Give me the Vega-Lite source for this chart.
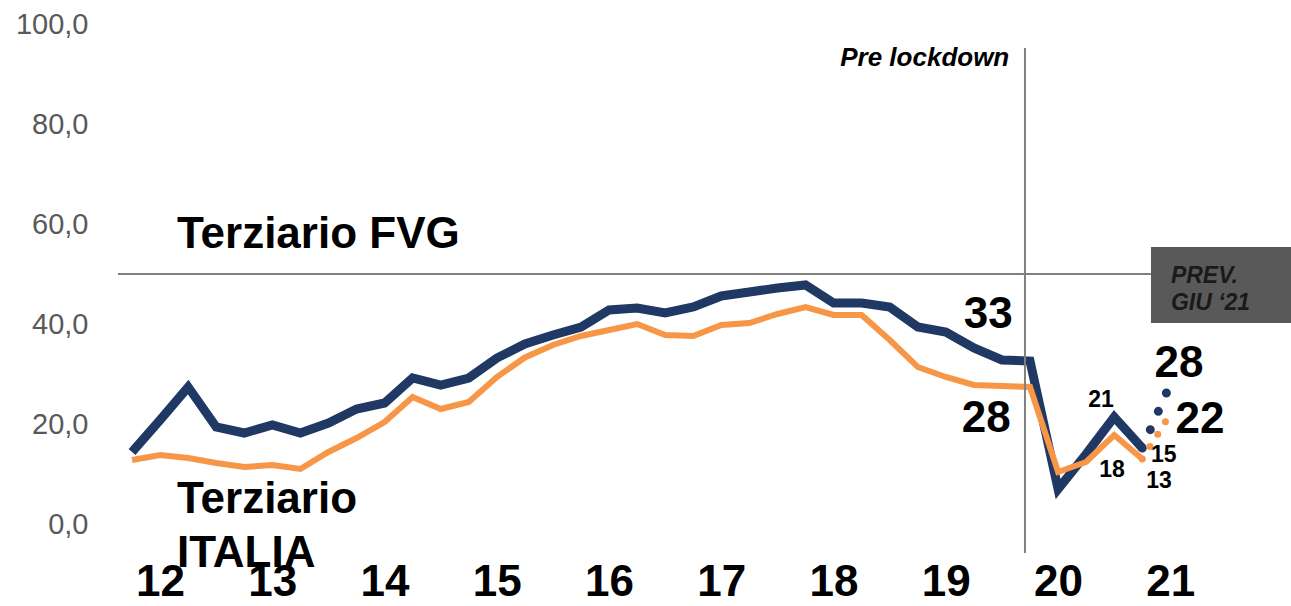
{
  "$schema": "https://vega.github.io/schema/vega-lite/v6.json",
  "width": 1173,
  "height": 530,
  "autosize": {"type": "none"},
  "padding": {"left": 118, "top": 24, "right": 0, "bottom": 52},
  "background": "white",
  "config": {"view": {"stroke": null}, "font": "Liberation Sans"},
  "datasets": {
    "fvg": [
      {"t": 0, "v": 14.4}, {"t": 1, "v": 20.8}, {"t": 2, "v": 27.4}, {"t": 3, "v": 19.4},
      {"t": 4, "v": 18.2}, {"t": 5, "v": 19.8}, {"t": 6, "v": 18.2}, {"t": 7, "v": 20.2},
      {"t": 8, "v": 23.0}, {"t": 9, "v": 24.2}, {"t": 10, "v": 29.2}, {"t": 11, "v": 27.8},
      {"t": 12, "v": 29.2}, {"t": 13, "v": 33.2}, {"t": 14, "v": 36.0}, {"t": 15, "v": 37.8},
      {"t": 16, "v": 39.4}, {"t": 17, "v": 42.8}, {"t": 18, "v": 43.2}, {"t": 19, "v": 42.2},
      {"t": 20, "v": 43.4}, {"t": 21, "v": 45.6}, {"t": 22, "v": 46.4}, {"t": 23, "v": 47.2},
      {"t": 24, "v": 47.8}, {"t": 25, "v": 44.2}, {"t": 26, "v": 44.2}, {"t": 27, "v": 43.4},
      {"t": 28, "v": 39.4}, {"t": 29, "v": 38.4}, {"t": 30, "v": 35.2}, {"t": 31, "v": 32.8},
      {"t": 32, "v": 32.6}, {"t": 33, "v": 7.0}, {"t": 34, "v": 14.0}, {"t": 35, "v": 21.4},
      {"t": 36, "v": 15.2}
    ],
    "ita": [
      {"t": 0, "v": 12.8}, {"t": 1, "v": 13.8}, {"t": 2, "v": 13.2}, {"t": 3, "v": 12.2},
      {"t": 4, "v": 11.4}, {"t": 5, "v": 11.8}, {"t": 6, "v": 11.0}, {"t": 7, "v": 14.4},
      {"t": 8, "v": 17.2}, {"t": 9, "v": 20.4}, {"t": 10, "v": 25.4}, {"t": 11, "v": 23.0},
      {"t": 12, "v": 24.4}, {"t": 13, "v": 29.4}, {"t": 14, "v": 33.3}, {"t": 15, "v": 35.8},
      {"t": 16, "v": 37.6}, {"t": 17, "v": 38.8}, {"t": 18, "v": 40.0}, {"t": 19, "v": 37.8},
      {"t": 20, "v": 37.6}, {"t": 21, "v": 39.8}, {"t": 22, "v": 40.2}, {"t": 23, "v": 42.0},
      {"t": 24, "v": 43.4}, {"t": 25, "v": 41.8}, {"t": 26, "v": 41.8}, {"t": 27, "v": 36.8},
      {"t": 28, "v": 31.4}, {"t": 29, "v": 29.4}, {"t": 30, "v": 27.8}, {"t": 31, "v": 27.6},
      {"t": 32, "v": 27.4}, {"t": 33, "v": 10.4}, {"t": 34, "v": 12.4}, {"t": 35, "v": 17.8},
      {"t": 36, "v": 13.0}
    ],
    "fvgf": [{"t": 36, "v": 15.2}, {"t": 37, "v": 28}],
    "itaf": [{"t": 36, "v": 13.0}, {"t": 37, "v": 22}],
    "hline": [{"t": -0.5, "t2": 36.31, "v": 50}],
    "vline": [{"t": 31.82, "v": 95.2, "v2": -5.8}],
    "box": [{"t": 36.31, "t2": 41.3, "v": 55.4, "v2": 40.2}],
    "big": [
      {"t": 30.51, "v": 39.2, "label": "33"},
      {"t": 30.44, "v": 18.4, "label": "28"},
      {"t": 37.31, "v": 29.4, "label": "28"},
      {"t": 38.06, "v": 18.2, "label": "22"}
    ],
    "small": [
      {"t": 34.53, "v": 23.4, "label": "21"},
      {"t": 34.92, "v": 9.4, "label": "18"},
      {"t": 36.77, "v": 12.4, "label": "15"},
      {"t": 36.6, "v": 7.2, "label": "13"}
    ],
    "names": [
      {"t": 1.6, "v": 55.2, "label": "Terziario FVG"},
      {"t": 1.6, "v": 2.2, "label": "Terziario"},
      {"t": 1.6, "v": -8.6, "label": "ITALIA"}
    ],
    "pre": [{"t": 31.26, "v": 91.6, "label": "Pre lockdown"}],
    "prev": [
      {"t": 37.02, "v": 48.2, "label": "PREV."},
      {"t": 37.02, "v": 42.8, "label": "GIU ‘21"}
    ]
  },
  "encoding": {
    "x": {
      "field": "t", "type": "quantitative",
      "scale": {"domain": [-0.5, 41.3], "nice": false, "zero": false},
      "axis": {
        "values": [1, 5, 9, 13, 17, 21, 25, 29, 33, 37],
        "labelExpr": "format(12 + (datum.value - 1) / 4, 'd')",
        "title": null, "grid": false, "ticks": false, "domain": false,
        "labelFont": "Liberation Sans", "labelFontWeight": "bold", "labelFontSize": 44,
        "labelColor": "#000000", "labelPadding": 6, "labelFlush": false, "labelOverlap": false
      }
    },
    "y": {
      "field": "v", "type": "quantitative",
      "scale": {"domain": [-6, 100], "nice": false, "zero": false},
      "axis": {
        "values": [0, 20, 40, 60, 80, 100],
        "labelExpr": "replace(format(datum.value, '.1f'), '.', ',')",
        "title": null, "grid": false, "ticks": false, "domain": false,
        "labelFont": "Liberation Sans", "labelFontSize": 29, "labelColor": "#595959", "labelPadding": 30
      }
    }
  },
  "layer": [
    {
      "data": {"name": "box"},
      "mark": {"type": "rect", "fill": "#595959"},
      "encoding": {"x2": {"field": "t2"}, "y2": {"field": "v2"}}
    },
    {
      "data": {"name": "hline"},
      "mark": {"type": "rule", "stroke": "#808080", "strokeWidth": 2},
      "encoding": {"x2": {"field": "t2"}}
    },
    {
      "data": {"name": "fvg"},
      "mark": {"type": "line", "stroke": "#203864", "strokeWidth": 9},
      "encoding": {}
    },
    {
      "data": {"name": "ita"},
      "mark": {"type": "line", "stroke": "#F79646", "strokeWidth": 6},
      "encoding": {}
    },
    {
      "data": {"name": "fvgf"},
      "mark": {"type": "line", "stroke": "#203864", "strokeWidth": 9, "strokeCap": "round", "strokeDash": [0, 20]},
      "encoding": {}
    },
    {
      "data": {"name": "itaf"},
      "mark": {"type": "line", "stroke": "#F79646", "strokeWidth": 7, "strokeCap": "round", "strokeDash": [0, 14.6]},
      "encoding": {}
    },
    {
      "data": {"name": "vline"},
      "mark": {"type": "rule", "stroke": "#808080", "strokeWidth": 2},
      "encoding": {"y2": {"field": "v2"}}
    },
    {
      "data": {"name": "big"},
      "mark": {"type": "text", "font": "Liberation Sans", "fontWeight": "bold", "fontSize": 44, "align": "center", "baseline": "alphabetic", "color": "#000000"},
      "encoding": {"text": {"field": "label"}}
    },
    {
      "data": {"name": "small"},
      "mark": {"type": "text", "font": "Liberation Sans", "fontWeight": "bold", "fontSize": 23, "align": "center", "baseline": "alphabetic", "color": "#000000"},
      "encoding": {"text": {"field": "label"}}
    },
    {
      "data": {"name": "names"},
      "mark": {"type": "text", "font": "Liberation Sans", "fontWeight": "bold", "fontSize": 44, "align": "left", "baseline": "alphabetic", "color": "#000000"},
      "encoding": {"text": {"field": "label"}}
    },
    {
      "data": {"name": "pre"},
      "mark": {"type": "text", "font": "Liberation Sans", "fontWeight": "bold", "fontStyle": "italic", "fontSize": 26, "align": "right", "baseline": "alphabetic", "color": "#000000"},
      "encoding": {"text": {"field": "label"}}
    },
    {
      "data": {"name": "prev"},
      "mark": {"type": "text", "font": "Liberation Sans", "fontWeight": "bold", "fontStyle": "italic", "fontSize": 23, "align": "left", "baseline": "alphabetic", "color": "#1a1a1a"},
      "encoding": {"text": {"field": "label"}}
    }
  ]
}
